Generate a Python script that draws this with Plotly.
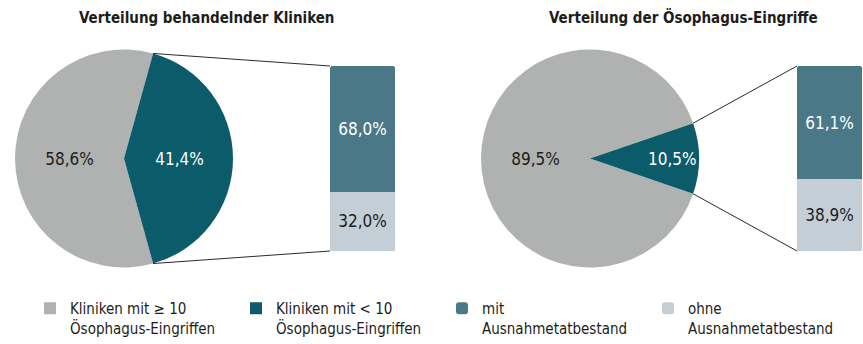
import math
import plotly.graph_objects as go

# --- data -------------------------------------------------------------
pie_labels = ["Kliniken mit ≥ 10<br>Ösophagus-Eingriffen",
              "Kliniken mit < 10<br>Ösophagus-Eingriffen"]
kliniken_shares = [58.6, 41.4]      # Verteilung behandelnder Kliniken
eingriffe_shares = [89.5, 10.5]     # Verteilung der Ösophagus-Eingriffe

bar_names = ["ohne<br>Ausnahmetatbestand", "mit<br>Ausnahmetatbestand"]
kliniken_split = [32.0, 68.0]       # split of the small-clinic slice
eingriffe_split = [38.9, 61.1]

titles = ["Verteilung behandelnder Kliniken",
          "Verteilung der Ösophagus-Eingriffe"]

# --- styling ----------------------------------------------------------
W, H = 863, 344
FONT = "DejaVu Sans Condensed, Liberation Sans Narrow, Arial Narrow, sans-serif"
PIE_COLORS = ["#b0b1b1", "#0b5b6b"]
BAR_COLORS = ["#c3ced6", "#4a7886"]
INK = "#1d1d1b"

# layout geometry in pixels: pie centre / radius, bar box, title centre
panels = [
    dict(cx=124, cy=158.5, r=109, bx0=330, bx1=395, by0=66, by1=251, tx=206),
    dict(cx=590, cy=158.5, r=109, bx0=797, bx1=862, by0=66, by1=251, tx=683),
]


def px(x):
    return x / W


def py(y):
    return 1 - y / H


fig = go.Figure()
shapes = []
annotations = []

for i, (shares, split, p) in enumerate(zip([kliniken_shares, eingriffe_shares],
                                           [kliniken_split, eingriffe_split],
                                           panels)):
    small = shares[1]
    half = small * 360 / 100 / 2          # half angle of the exploded slice
    fig.add_trace(go.Pie(
        labels=pie_labels,
        values=shares,
        sort=False,
        direction="clockwise",
        rotation=90 + half,
        marker=dict(colors=PIE_COLORS, line=dict(width=0)),
        texttemplate="%{value:.1f}%",
        textposition="inside",
        insidetextorientation="horizontal",
        textfont=dict(family=FONT, size=17, color=[INK, "white"]),
        hoverinfo="skip",
        showlegend=(i == 0),
        legendrank=1,
        domain=dict(x=[px(p["cx"] - p["r"]), px(p["cx"] + p["r"])],
                    y=[py(p["cy"] + p["r"]), py(p["cy"] - p["r"])]),
    ))

    xa = "x" if i == 0 else "x2"
    ya = "y" if i == 0 else "y2"
    for j, (name, v) in enumerate(zip(bar_names, split)):
        fig.add_trace(go.Bar(
            x=[0], y=[v], name=name, xaxis=xa, yaxis=ya, width=1,
            marker=dict(color=BAR_COLORS[j], line=dict(width=0)),
            texttemplate="%{y:.1f}%",
            textposition="inside",
            insidetextanchor="middle",
            textfont=dict(family=FONT, size=17, color=[INK, "white"][j]),
            cliponaxis=False,
            hoverinfo="skip",
            showlegend=(i == 0),
            legendrank=3 - j,
        ))

    # connector lines from the slice edges to the bar corners
    a = math.radians(half)
    ex = p["cx"] + p["r"] * math.cos(a)
    for sgn, by in ((1, p["by0"]), (-1, p["by1"])):
        ey = p["cy"] - sgn * p["r"] * math.sin(a)
        shapes.append(dict(type="line", xref="paper", yref="paper",
                           x0=px(ex), y0=py(ey), x1=px(p["bx0"]), y1=py(by),
                           line=dict(color="#2a2a2a", width=1)))

    annotations.append(dict(text="<b>" + titles[i] + "</b>", xref="paper", yref="paper",
                            x=px(p["tx"]), y=py(18), xanchor="center", yanchor="middle",
                            showarrow=False, font=dict(family=FONT, size=15, color=INK)))

p0, p1 = panels
axis_common = dict(visible=False, fixedrange=True)
fig.update_layout(
    width=W, height=H,
    margin=dict(l=0, r=0, t=0, b=0, autoexpand=False),
    paper_bgcolor="white", plot_bgcolor="rgba(0,0,0,0)",
    separators=",.",
    barmode="stack",
    barcornerradius=3,
    font=dict(family=FONT, size=15, color=INK),
    xaxis=dict(domain=[px(p0["bx0"]), px(p0["bx1"])], range=[-0.5, 0.5], **axis_common),
    yaxis=dict(domain=[py(p0["by1"]), py(p0["by0"])], range=[0, 100], **axis_common),
    xaxis2=dict(domain=[px(p1["bx0"]), px(p1["bx1"])], range=[-0.5, 0.5], anchor="y2", **axis_common),
    yaxis2=dict(domain=[py(p1["by1"]), py(p1["by0"])], range=[0, 100], anchor="x2", **axis_common),
    shapes=shapes,
    annotations=annotations,
    legend=dict(orientation="h", x=px(30), y=py(292), xanchor="left", yanchor="top",
                entrywidth=161, entrywidthmode="pixels", traceorder="normal",
                valign="top", font=dict(family=FONT, size=15, color=INK),
                itemclick=False, itemdoubleclick=False),
)

fig.write_html("out.html")
